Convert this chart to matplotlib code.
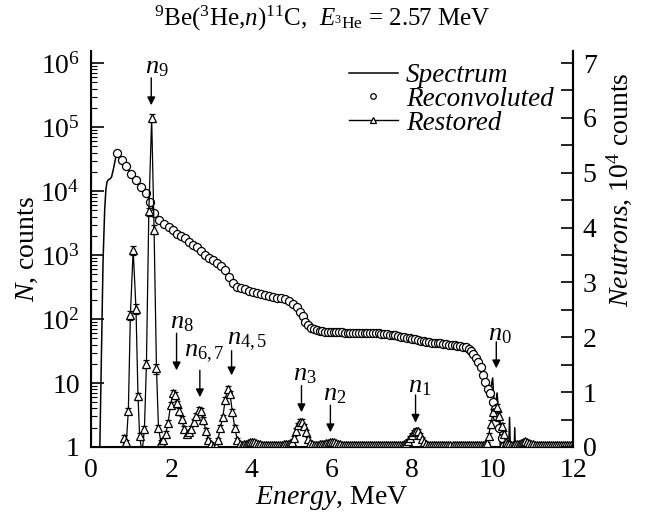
import matplotlib
matplotlib.use("Agg")
import matplotlib.pyplot as plt
from matplotlib.lines import Line2D
from matplotlib.ticker import FixedLocator, FixedFormatter, LogLocator, NullFormatter, MultipleLocator

plt.rcParams['font.family'] = ['Liberation Serif', 'DejaVu Serif']
plt.rcParams['mathtext.fontset'] = 'custom'
plt.rcParams['mathtext.rm'] = 'Liberation Serif'
plt.rcParams['mathtext.it'] = 'Liberation Serif:italic'
plt.rcParams['mathtext.bf'] = 'Liberation Serif:bold'

# ---------------- data ----------------
spectrum_energy = [0.18, 0.22, 0.26, 0.30, 0.34, 0.37, 0.40, 0.43, 0.47, 0.51, 0.55, 0.59, 0.64,
                   0.76, 0.88, 1.00, 1.12, 1.24, 1.36, 1.48, 1.58, 1.70, 1.82, 1.94, 2.04, 2.14, 2.24,
                   2.34, 2.44, 2.54, 2.64, 2.74, 2.84, 2.94, 3.04, 3.14, 3.24, 3.34, 3.44, 3.54, 3.64,
                   3.74, 3.84, 3.94, 4.04, 4.14, 4.24, 4.34, 4.44, 4.54, 4.64, 4.74, 4.84, 4.94, 5.04,
                   5.12, 5.20, 5.27, 5.34, 5.41, 5.48,
                   5.55, 5.62, 5.69, 5.76, 5.83, 5.90, 5.97, 6.04, 6.11, 6.18, 6.25, 6.32, 6.39, 6.46,
                   6.53, 6.60, 6.67, 6.74, 6.81, 6.88, 6.95, 7.02, 7.09, 7.16, 7.23, 7.30, 7.37, 7.44,
                   7.51, 7.58, 7.65, 7.72, 7.79, 7.86, 7.93, 8.00, 8.07, 8.14, 8.21, 8.28, 8.35, 8.42,
                   8.49, 8.56, 8.63, 8.70, 8.77, 8.84, 8.91, 8.98, 9.05, 9.12, 9.19, 9.26, 9.33, 9.40,
                   9.46, 9.52, 9.58, 9.64, 9.70, 9.76, 9.82, 9.88, 9.94, 10.00, 10.05, 10.11, 10.17,
                   10.22, 10.30, 10.38, 10.42, 10.46, 10.52, 10.55, 10.58, 12.0]
spectrum_counts = [0.3, 1.0, 30, 800, 5000, 10500, 14000, 15000, 15500, 16500, 21000, 28000, 40000,
                   31000, 25000, 18600, 14800, 11500, 9300, 6800, 4600, 3500, 3100, 2700, 2450, 2150, 2000,
                   1820, 1620, 1450, 1320, 1170, 1020, 910, 830, 740, 670, 590, 460, 370, 320,
                   305, 290, 275, 263, 255, 245, 235, 228, 222, 216, 210, 203, 190, 172,
                   155, 130, 110, 90, 80, 73,
                   70, 64, 67, 58, 66, 61, 64, 55, 63, 60, 66, 57, 62, 52,
                   63, 60, 64, 58, 61, 57, 65, 55, 62, 59, 62, 54, 60, 56,
                   58, 52, 57, 50, 54, 48, 53, 46, 51, 41, 48, 43, 46, 40,
                   45, 38, 44, 41, 43, 36, 42, 38, 41, 33, 40, 35, 38, 31,
                   30, 28, 26, 20, 18, 12, 11, 6, 7.5, 12, 3.5, 7, 2.2,
                   0.3, 0.3, 0.3, 2.9, 0.3, 0.3, 2.0, 0.3, 0.3]

reconv_energy = [0.64, 0.76, 0.88, 1.00, 1.12, 1.24, 1.36, 1.48, 1.58, 1.70, 1.82, 1.94, 2.04, 2.14, 2.24,
                 2.34, 2.44, 2.54, 2.64, 2.74, 2.84, 2.94, 3.04, 3.14, 3.24, 3.34, 3.44, 3.54, 3.64,
                 3.74, 3.84, 3.94, 4.04, 4.14, 4.24, 4.34, 4.44, 4.54, 4.64, 4.74, 4.84, 4.94, 5.04,
                 5.12, 5.20, 5.27, 5.34, 5.41, 5.48,
                 5.55, 5.62, 5.69, 5.76, 5.83, 5.90, 5.97, 6.04, 6.11, 6.18, 6.25, 6.32, 6.39, 6.46,
                 6.53, 6.60, 6.67, 6.74, 6.81, 6.88, 6.95, 7.02, 7.09, 7.16, 7.23, 7.30, 7.37, 7.44,
                 7.51, 7.58, 7.65, 7.72, 7.79, 7.86, 7.93, 8.00, 8.07, 8.14, 8.21, 8.28, 8.35, 8.42,
                 8.49, 8.56, 8.63, 8.70, 8.77, 8.84, 8.91, 8.98, 9.05, 9.12, 9.19, 9.26, 9.33, 9.40,
                 9.46, 9.52, 9.58, 9.64, 9.70, 9.76, 9.82, 9.88, 9.94, 10.00, 10.05, 10.11, 10.17,
                 10.23, 10.29]
reconv_counts = [40000, 31000, 25000, 18600, 14800, 11500, 9300, 6800, 4600, 3500, 3100, 2700, 2450, 2150, 2000,
                 1820, 1620, 1450, 1320, 1170, 1020, 910, 830, 740, 670, 590, 460, 370, 320,
                 305, 290, 275, 263, 255, 245, 235, 228, 222, 216, 210, 203, 190, 172,
                 155, 130, 110, 90, 80, 73,
                 69, 67, 65, 64, 63, 63, 62, 62, 62, 62, 62, 61, 61, 61,
                 61, 61, 61, 61, 60, 60, 60, 60, 60, 60, 59, 58, 58, 57,
                 56, 56, 55, 53, 52, 51, 50, 49, 48, 47, 46, 45, 44, 44,
                 43, 43, 42, 42, 41, 41, 40, 40, 39, 38, 38, 37, 36, 34,
                 32, 28.5, 25, 21, 17.5, 13.5, 10.5, 8, 7.0, 5.0, 3.9, 2.9, 2.0,
                 1.4, 1.05]

# Restored spectrum, segment by segment (energy, counts, error)
restored_e_low = [0.78, 0.83, 0.88, 0.93, 0.98, 1.05, 1.12, 1.17, 1.21, 1.27, 1.33, 1.38, 1.44, 1.51,
                  1.57, 1.63, 1.68, 1.74, 1.80, 1.86, 1.92, 1.98, 2.04, 2.09, 2.14, 2.20, 2.26, 2.32,
                  2.38, 2.44, 2.50, 2.56, 2.62, 2.68, 2.74, 2.80, 2.86, 2.92, 2.98, 3.04, 3.10, 3.16,
                  3.22, 3.28, 3.34, 3.40, 3.46, 3.52, 3.58, 3.64, 3.70, 3.76]
restored_n_low = [0.6, 1.4, 1.2, 3.7, 114, 1200, 145, 6.3, 1.5, 0.8, 1.9, 20, 4800, 140000,
                  2500, 17, 2.0, 1.2, 1.3, 1.6, 2.4, 4.5, 7.0, 6.5, 4.8, 3.6, 2.7, 1.9,
                  1.6, 1.7, 1.9, 2.5, 3.1, 3.8, 3.6, 2.6, 1.8, 1.3, 1.1, 1.0, 1.05, 1.3,
                  2.0, 2.9, 5.4, 8.0, 6.8, 3.5, 2.0, 1.3, 1.1, 1.08]
restored_s_low = [0.05, 0.15, 0.1, 0.4, 18, 200, 25, 0.8, 0.15, 0.08, 0.2, 3, 700, 20000,
                  400, 3, 0.2, 0.1, 0.1, 0.15, 0.25, 0.5, 0.8, 0.7, 0.5, 0.4, 0.3, 0.2,
                  0.15, 0.15, 0.2, 0.25, 0.3, 0.4, 0.4, 0.3, 0.2, 0.1, 0.1, 0.08, 0.08, 0.1,
                  0.2, 0.3, 0.6, 0.9, 0.7, 0.4, 0.2, 0.1, 0.05, 0.04]

restored_e_mid = [3.80, 3.85, 3.90, 3.95, 4.00, 4.05, 4.10, 4.15, 4.20, 4.25, 4.30, 4.35, 4.40, 4.45,
                  4.50, 4.55, 4.60, 4.65, 4.70, 4.75, 4.80, 4.85, 4.90, 4.95,
                  5.00, 5.05, 5.10, 5.15, 5.20, 5.25, 5.30, 5.35, 5.40, 5.45,
                  5.50, 5.55, 5.60, 5.65, 5.70, 5.75, 5.80, 5.85, 5.90, 5.95, 6.00, 6.05, 6.10, 6.15, 6.20]
restored_n_mid = [1.10, 1.12, 1.15, 1.18, 1.19, 1.18, 1.15, 1.12, 1.10, 1.09, 1.09, 1.09, 1.09, 1.09,
                  1.09, 1.09, 1.09, 1.09, 1.09, 1.09, 1.10, 1.10, 1.12, 1.15,
                  1.2, 1.4, 1.8, 2.2, 2.5, 2.45, 2.1, 1.7, 1.35, 1.15,
                  1.10, 1.09, 1.09, 1.09, 1.10, 1.10, 1.12, 1.14, 1.17, 1.19, 1.20, 1.18, 1.15, 1.12, 1.10]
restored_s_mid = [0.03, 0.03, 0.03, 0.03, 0.03, 0.03, 0.03, 0.03, 0.03, 0.03, 0.03, 0.03, 0.03, 0.03,
                  0.03, 0.03, 0.03, 0.03, 0.03, 0.03, 0.03, 0.03, 0.03, 0.03,
                  0.05, 0.1, 0.15, 0.2, 0.25, 0.25, 0.2, 0.15, 0.1, 0.05,
                  0.03, 0.03, 0.03, 0.03, 0.03, 0.03, 0.03, 0.03, 0.03, 0.03, 0.03, 0.03, 0.03, 0.03, 0.03]

restored_e_n1 = [6.25, 6.30, 6.35, 6.40, 6.45, 6.50, 6.55, 6.60, 6.65, 6.70, 6.75, 6.80, 6.85, 6.90,
                 6.95, 7.00, 7.05, 7.10, 7.15, 7.20, 7.25, 7.30, 7.35, 7.40, 7.45, 7.50, 7.55, 7.60,
                 7.65, 7.70, 7.75, 7.80,
                 7.85, 7.90, 7.95, 8.00, 8.05, 8.10, 8.15, 8.20, 8.25, 8.30, 8.35]
restored_n_n1 = [1.09, 1.09, 1.09, 1.09, 1.09, 1.09, 1.09, 1.09, 1.09, 1.09, 1.09, 1.09, 1.09, 1.09,
                 1.09, 1.09, 1.09, 1.09, 1.09, 1.09, 1.09, 1.09, 1.09, 1.09, 1.09, 1.09, 1.09, 1.09,
                 1.09, 1.09, 1.09, 1.10,
                 1.15, 1.25, 1.4, 1.55, 1.7, 1.8, 1.75, 1.55, 1.35, 1.2, 1.12]
restored_s_n1 = [0.03, 0.03, 0.03, 0.03, 0.03, 0.03, 0.03, 0.03, 0.03, 0.03, 0.03, 0.03, 0.03, 0.03,
                 0.03, 0.03, 0.03, 0.03, 0.03, 0.03, 0.03, 0.03, 0.03, 0.03, 0.03, 0.03, 0.03, 0.03,
                 0.03, 0.03, 0.03, 0.03,
                 0.04, 0.06, 0.1, 0.12, 0.15, 0.15, 0.15, 0.12, 0.1, 0.06, 0.04]

restored_e_high = [8.40, 8.45, 8.50, 8.55, 8.60, 8.65, 8.70, 8.75, 8.80, 8.85, 8.90, 8.95, 9.00, 9.05,
                   9.10, 9.15, 9.20, 9.25, 9.30, 9.35, 9.40, 9.45, 9.50, 9.55, 9.60, 9.65, 9.70, 9.75,
                   9.80,
                   9.85, 9.90, 9.95, 10.02, 10.10, 10.15, 10.22, 10.27, 10.32,
                   10.35, 10.40, 10.45, 10.50, 10.55, 10.60, 10.65, 10.70, 10.75, 10.80, 10.85, 10.90,
                   10.95, 11.00,
                   11.05, 11.10, 11.15, 11.20, 11.25, 11.30, 11.35, 11.40, 11.45, 11.50, 11.55, 11.60,
                   11.65, 11.70, 11.75, 11.80, 11.85, 11.90, 11.95, 12.00]
restored_n_high = [1.09, 1.09, 1.09, 1.09, 1.09, 1.09, 1.09, 1.09, 1.09, 1.09, 1.09, 1.09, 1.09, 1.09,
                   1.09, 1.09, 1.09, 1.09, 1.09, 1.09, 1.09, 1.09, 1.09, 1.09, 1.09, 1.09, 1.09, 1.09,
                   1.10,
                   1.15, 1.5, 2.3, 3.5, 4.2, 3.1, 2.1, 1.6, 1.2,
                   1.12, 1.10, 1.09, 1.09, 1.10, 1.11, 1.13, 1.16, 1.20, 1.22, 1.20, 1.16,
                   1.12, 1.10,
                   1.09, 1.09, 1.09, 1.09, 1.09, 1.09, 1.09, 1.09, 1.09, 1.09, 1.09, 1.09,
                   1.09, 1.09, 1.09, 1.09, 1.09, 1.09, 1.09, 1.09]
restored_s_high = [0.03, 0.03, 0.03, 0.03, 0.03, 0.03, 0.03, 0.03, 0.03, 0.03, 0.03, 0.03, 0.03, 0.03,
                   0.03, 0.03, 0.03, 0.03, 0.03, 0.03, 0.03, 0.03, 0.03, 0.03, 0.03, 0.03, 0.03, 0.03,
                   0.03,
                   0.04, 0.15, 0.3, 0.45, 0.5, 0.4, 0.25, 0.15, 0.06,
                   0.03, 0.03, 0.03, 0.03, 0.03, 0.03, 0.03, 0.03, 0.03, 0.03, 0.03, 0.03,
                   0.03, 0.03,
                   0.03, 0.03, 0.03, 0.03, 0.03, 0.03, 0.03, 0.03, 0.03, 0.03, 0.03, 0.03,
                   0.03, 0.03, 0.03, 0.03, 0.03, 0.03, 0.03, 0.03]

restored_energy = restored_e_low + restored_e_mid + restored_e_n1 + restored_e_high
restored_counts = restored_n_low + restored_n_mid + restored_n_n1 + restored_n_high
restored_err = restored_s_low + restored_s_mid + restored_s_n1 + restored_s_high

peak_labels = ["$n_9$", "$n_8$", "$n_{6,7}$", "$n_{4,5}$", "$n_3$", "$n_2$", "$n_1$", "$n_0$"]
peak_energy = [1.50, 2.13, 2.71, 3.50, 5.24, 5.96, 8.08, 10.09]
arrow_top = [5.9e5, 60, 15.8, 32, 9.1, 4.5, 6.5, 44]
arrow_tip = [2.2e5, 15.8, 6.0, 13.2, 3.5, 1.7, 2.4, 17]
label_x = [1.34, 1.97, 2.31, 3.38, 5.02, 5.77, 7.89, 9.88]
label_y = [6.9e5, 71, 26, 40, 11, 5.4, 7.1, 47]

right_ticks = [0, 1, 2, 3, 4, 5, 6, 7]
left_ticks = [1, 10, 1e2, 1e3, 1e4, 1e5, 1e6]
left_ticklabels = ["1", "10", "$10^2$", "$10^3$", "$10^4$", "$10^5$", "$10^6$"]
x_ticks = [0, 2, 4, 6, 8, 10, 12]
legend_labels = ["Spectrum", "Reconvoluted", "Restored"]

# ---------------- figure ----------------
fig = plt.figure(figsize=(6.45, 5.16), dpi=100)
ax = fig.add_axes([91/645, 1-447/516, (573-91)/645, (447-51)/516])
ax.set_yscale('log')
ax.set_xlim(0, 12)
ax.set_ylim(1, 10**6.19)

ax.plot(spectrum_energy, spectrum_counts, color='k', lw=1.1, zorder=2)
ax.plot(reconv_energy, reconv_counts, ls='none', marker='o', ms=5.8, mfc='white', mec='k', mew=0.9,
        zorder=3)
ax.errorbar(restored_energy, restored_counts, yerr=restored_err, fmt='-^', color='k', lw=0.9,
            ms=5.5, mfc='white', mec='k', mew=0.9, elinewidth=0.8, capsize=2.5, capthick=0.8,
            zorder=4)

for lab, xe, yt, yp, lx, ly in zip(peak_labels, peak_energy, arrow_top, arrow_tip, label_x, label_y):
    ax.annotate('', xy=(xe, yp), xytext=(xe, yt),
                arrowprops=dict(arrowstyle='-|>', color='k', lw=1.0, mutation_scale=12,
                                shrinkA=0, shrinkB=0))
    ax.text(lx, ly, lab, fontsize=19, ha='left', va='baseline')

ax.yaxis.set_major_locator(FixedLocator(left_ticks))
ax.yaxis.set_major_formatter(FixedFormatter(left_ticklabels))
ax.yaxis.set_minor_locator(LogLocator(base=10, subs=[2, 3, 4, 5, 6, 7, 8, 9], numticks=20))
ax.yaxis.set_minor_formatter(NullFormatter())
ax.set_xticks(x_ticks)
ax.tick_params(axis='both', which='major', direction='in', labelsize=20, width=1.2)
ax.tick_params(axis='y', which='major', length=9, pad=8)
ax.tick_params(axis='y', which='minor', direction='in', length=4.5, width=0.8)
ax.tick_params(axis='x', which='major', length=0, pad=8)
ax.spines['top'].set_visible(False)
for s in ['left', 'bottom', 'right']:
    ax.spines[s].set_linewidth(1.5)

ax.set_xlabel('$Energy$, MeV', fontsize=20, labelpad=1)
ax.set_ylabel('$N$, counts', fontsize=20, labelpad=0)

ax2 = ax.twinx()
ax2.set_ylim(0, 7.22)
ax2.set_yticks(right_ticks)
ax2.yaxis.set_minor_locator(MultipleLocator(0.5))
ax2.tick_params(axis='y', which='both', direction='in', labelsize=20, width=1.2, length=9, pad=7)
ax2.spines['top'].set_visible(False)
ax2.spines['right'].set_linewidth(1.5)
ax2.set_ylabel('$Neutrons$, 10$^4$ counts', fontsize=20)
ax2.yaxis.set_label_coords(1.064, 0.65)

handles = [Line2D([], [], color='k', lw=1.1),
           Line2D([], [], ls='none', marker='o', ms=4, mfc='white', mec='k', mew=0.9),
           Line2D([], [], color='k', lw=1.0, marker='^', ms=4.5, mfc='white', mec='k', mew=0.9)]
ax.legend(handles, legend_labels, loc='upper left', bbox_to_anchor=(0.496, 1.017), frameon=False,
          prop={'style': 'italic', 'size': 19.5, 'family': 'Liberation Serif'},
          handlelength=1.8, handletextpad=0.3, labelspacing=-0.05, borderpad=0.2)

fig.text(0.5, 0.965, r'$^{9}$Be($^{3}$He,$n$)$^{11}$C,  $E_{{}^{3}\mathrm{He}}$ = 2.57 MeV',
         ha='center', va='center', fontsize=18)

fig.savefig('out.png', dpi=100)
